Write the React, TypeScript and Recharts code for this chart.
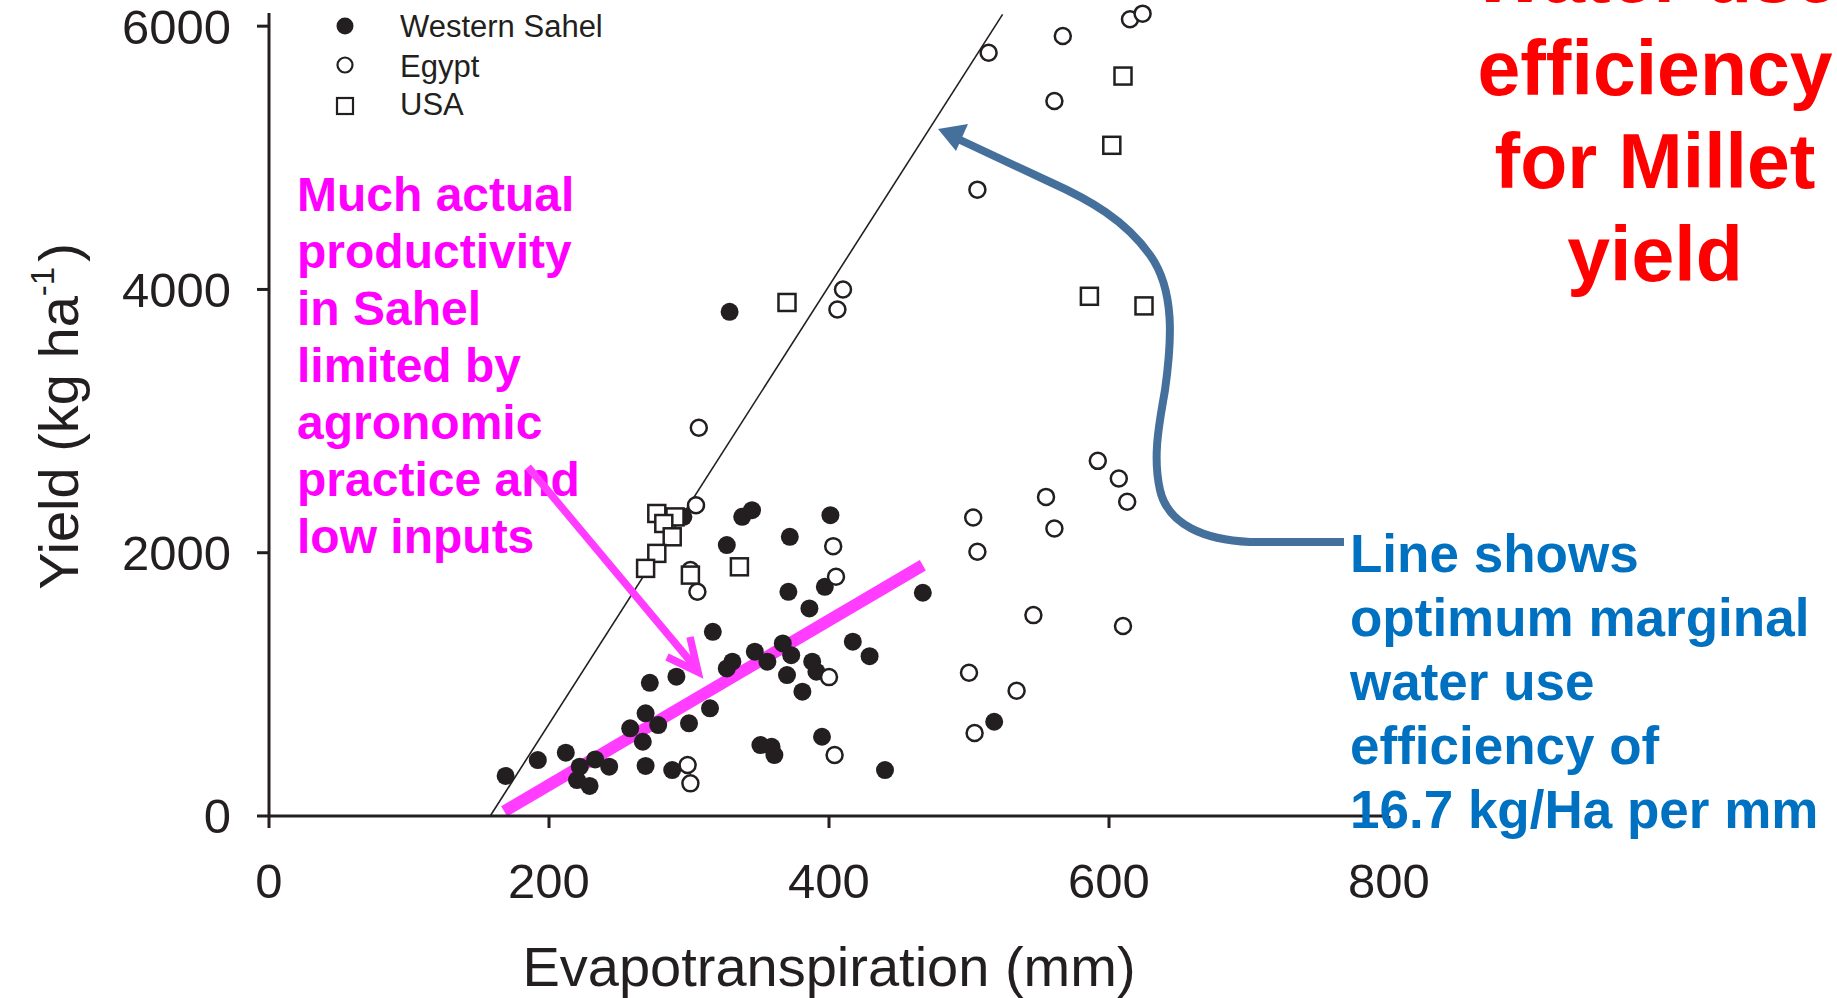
import React from "react";
import { Legend, ReferenceLine, Scatter, ScatterChart, XAxis, YAxis } from "recharts";

// [evapotranspiration (mm), yield (kg/ha)]
const westernSahel: [number, number][] = [
  [169, 304], [192, 425], [212, 481], [220, 273], [229, 228], [233, 430], [222, 375], [243, 375],
  [258, 666], [267, 564], [269, 780], [278, 691], [269, 380], [288, 349],
  [272, 1012], [291, 1058], [300, 704], [315, 818], [317, 1399], [327, 1121], [331, 1172],
  [296, 2273], [338, 2273], [345, 2323], [327, 2058], [372, 2121], [401, 2285],
  [397, 1741], [371, 1703], [386, 1577],
  [347, 1248], [356, 1172], [367, 1311], [373, 1222], [370, 1071], [381, 944], [388, 1172], [391, 1096],
  [417, 1324], [429, 1214], [467, 1696],
  [351, 539], [359, 526], [361, 463], [395, 602], [440, 349], [518, 716], [329, 3830],
];

const egypt: [number, number][] = [
  [299, 387], [301, 248], [305, 2361], [301, 1868], [306, 1703], [307, 2949], [403, 2050], [405, 1817],
  [400, 1055], [404, 463], [500, 1088], [504, 630], [534, 951], [503, 2268], [506, 2007], [546, 1526],
  [555, 2424], [561, 2184], [592, 2698], [607, 2564], [613, 2387], [610, 1443], [506, 4758], [514, 5798],
  [567, 5925], [561, 5432], [615, 6052], [624, 6095], [406, 3848], [410, 3999],
];

const usa: [number, number][] = [
  [277, 2298], [290, 2272], [282, 2222], [288, 2121], [277, 1995], [269, 1881], [301, 1830], [336, 1893],
  [370, 3901], [586, 3948], [625, 3875], [602, 5095], [610, 5621],
];

const xTicks = [0, 200, 400, 600, 800];
const yTicks = [0, 2000, 4000, 6000];

// 16.7 kg/ha per mm line and the hand-drawn Sahel trend
const optimumLine = [{ x: 158, y: 0 }, { x: 524, y: 6090 }];
const sahelTrend = [{ x: 168, y: 35 }, { x: 467, y: 1905 }];

const titleLines = ["Water use", "efficiency", "for Millet", "yield"];
const sahelNote = ["Much actual", "productivity", "in Sahel", "limited by", "agronomic", "practice and", "low inputs"];
const lineNote = ["Line shows", "optimum marginal", "water use", "efficiency of", "16.7 kg/Ha per mm"];

const INK = "#231f20";
const FONT = "'Liberation Sans', Arial, sans-serif";

const toPoints = (rows: [number, number][]) => rows.map(([x, y]) => ({ x, y }));

const FilledDot = (p: any) => <circle cx={p.cx} cy={p.cy} r={9} fill={INK} />;
const OpenDot = (p: any) => (
  <circle cx={p.cx} cy={p.cy} r={8} fill="#fff" stroke={INK} strokeWidth={2.5} />
);
const SquareDot = (p: any) => (
  <rect x={p.cx - 8.5} y={p.cy - 8.5} width={17} height={17} fill="#fff" stroke={INK} strokeWidth={2.5} />
);

const legendRows = [
  { name: "Western Sahel", kind: "filled" },
  { name: "Egypt", kind: "open" },
  { name: "USA", kind: "square" },
];

const LegendBox = () => (
  <svg width={340} height={130} style={{ display: "block" }}>
    {legendRows.map((r, i) => {
      const cy = [26, 65, 106][i];
      const by = [37, 77, 115][i];
      return (
        <g key={r.name}>
          {r.kind === "filled" && <circle cx={25} cy={cy} r={8.5} fill={INK} />}
          {r.kind === "open" && <circle cx={25} cy={cy} r={7.5} fill="#fff" stroke={INK} strokeWidth={2.2} />}
          {r.kind === "square" && (
            <rect x={17} y={cy - 8} width={16} height={16} fill="#fff" stroke={INK} strokeWidth={2.2} />
          )}
          <text x={80} y={by} fontSize={31} fill={INK} fontFamily={FONT}>
            {r.name}
          </text>
        </g>
      );
    })}
  </svg>
);

const XTitle = (props: any) => {
  const vb = props.viewBox || { x: 269, y: 816, width: 1120 };
  return (
    <text x={vb.x + vb.width / 2} y={vb.y + 170} textAnchor="middle" fontSize={56} fill={INK} fontFamily={FONT}>
      Evapotranspiration (mm)
    </text>
  );
};

const YTitle = (props: any) => {
  const vb = props.viewBox || { x: 0, y: 13, width: 269, height: 803 };
  const cx = vb.x + 78;
  const cy = vb.y + vb.height / 2 + 2;
  return (
    <text
      x={cx}
      y={cy}
      transform={`rotate(-90, ${cx}, ${cy})`}
      textAnchor="middle"
      fontSize={56}
      fill={INK}
      fontFamily={FONT}
    >
      Yield (kg ha
      <tspan fontSize={33} dy={-24}>-1</tspan>
      <tspan dy={24} dx={5}>)</tspan>
    </text>
  );
};

const Notes = () => (
  <svg
    width={1837}
    height={998}
    style={{ position: "absolute", left: 0, top: 0, pointerEvents: "none" }}
    fontFamily={FONT}
    fontWeight="bold"
  >
    {titleLines.map((t, i) => (
      <text key={t} x={1655} y={2 + i * 93} textAnchor="middle" fontSize={77} fill="#ff0000">
        {t}
      </text>
    ))}
    {sahelNote.map((t, i) => (
      <text key={t} x={297} y={211 + i * 57} fontSize={48} fill="#ff00ff">
        {t}
      </text>
    ))}
    {lineNote.map((t, i) => (
      <text key={t} x={1350} y={572 + i * 64} fontSize={53} fill="#0070c0">
        {t}
      </text>
    ))}
    {/* magenta pointer */}
    <line x1={528} y1={467} x2={696} y2={668} stroke="#ff3cff" strokeWidth={7.5} />
    <polyline points="667,657 698,672 690,637" fill="none" stroke="#ff3cff" strokeWidth={7.5} strokeLinejoin="miter" />
    {/* blue curved pointer */}
    <path
      d="M 1344 542 L 1250 542 C 1205 540, 1168 525, 1160 490 C 1152 455, 1160 420, 1165 390 C 1172 340, 1175 290, 1150 255 C 1125 220, 1090 200, 1050 182 L 958 139"
      fill="none"
      stroke="#46709c"
      strokeWidth={8}
    />
    <polygon points="938,129 968,124 956,151" fill="#46709c" />
  </svg>
);

export default function App() {
  return (
    <div style={{ position: "absolute", left: 0, top: 0, width: 1837, height: 998, background: "#fff" }}>
      <ScatterChart width={1837} height={998} margin={{ top: 13, right: 448, bottom: 0, left: 0 }}>
        <XAxis
          type="number"
          dataKey="x"
          domain={[0, 800]}
          ticks={xTicks}
          interval={0}
          height={182}
          tickSize={12}
          tickMargin={35}
          axisLine={{ stroke: INK, strokeWidth: 3 }}
          tickLine={{ stroke: INK, strokeWidth: 3 }}
          tick={{ fill: INK, fontSize: 49, fontFamily: FONT }}
          label={{ content: XTitle }}
        />
        <YAxis
          type="number"
          dataKey="y"
          domain={[0, 6100]}
          ticks={yTicks}
          interval={0}
          width={269}
          tickSize={12}
          tickMargin={26}
          axisLine={{ stroke: INK, strokeWidth: 3 }}
          tickLine={{ stroke: INK, strokeWidth: 3 }}
          tick={{ fill: INK, fontSize: 49, fontFamily: FONT }}
          label={{ content: YTitle }}
        />
        <Legend
          layout="vertical"
          align="center"
          verticalAlign="middle"
          wrapperStyle={{ left: 320, top: 0, width: 340, height: 130 }}
          content={LegendBox}
        />
        <ReferenceLine segment={optimumLine} stroke={INK} strokeWidth={1.6} ifOverflow="visible" />
        <Scatter name="Western Sahel" data={toPoints(westernSahel)} shape={FilledDot} isAnimationActive={false} />
        <Scatter name="Egypt" data={toPoints(egypt)} shape={OpenDot} isAnimationActive={false} />
        <Scatter name="USA" data={toPoints(usa)} shape={SquareDot} isAnimationActive={false} />
        <ReferenceLine segment={sahelTrend} stroke="#ff3cff" strokeWidth={12} ifOverflow="visible" />
      </ScatterChart>
      <Notes />
    </div>
  );
}
